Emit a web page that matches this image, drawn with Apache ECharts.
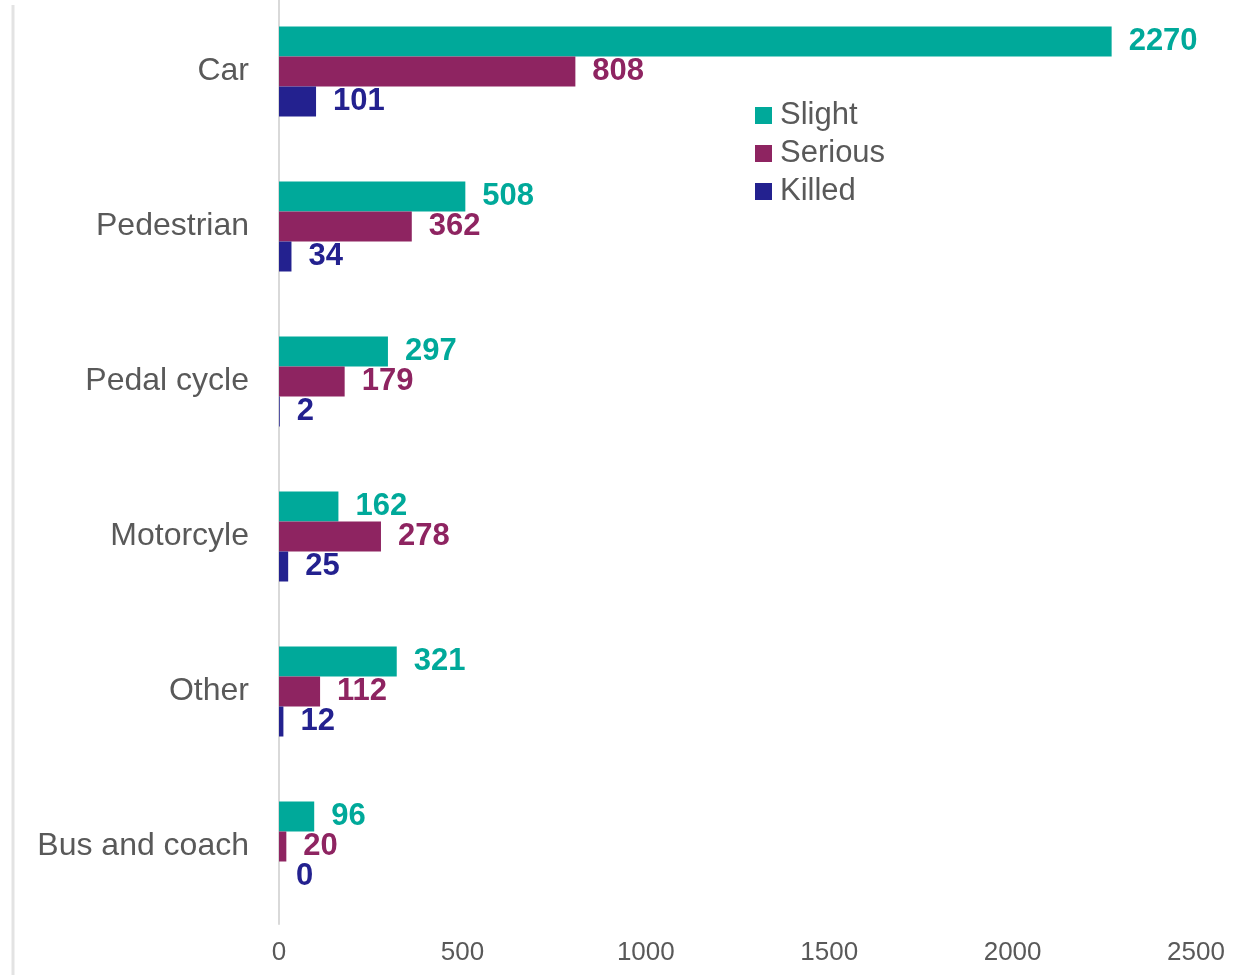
<!DOCTYPE html>
<html>
<head>
<meta charset="utf-8">
<script src="https://cdn.jsdelivr.net/npm/echarts@6/dist/echarts.min.js"></script>
<style>
html,body{margin:0;padding:0;background:#fff;overflow:hidden;}
#chart{width:1240px;height:981px;margin-top:-6px;}
</style>
</head>
<body>
<div id="chart"></div>
<script>
const categories = ['Car', 'Pedestrian', 'Pedal cycle', 'Motorcyle', 'Other', 'Bus and coach'];
const slight = [2270, 508, 297, 162, 321, 96];
const serious = [808, 362, 179, 278, 112, 20];
const killed = [101, 34, 2, 25, 12, 0];
const xTicks = [0, 500, 1000, 1500, 2000, 2500];

const colors = { Slight: '#00a99a', Serious: '#8e2461', Killed: '#23218f' };
const font = 'Arial, "Liberation Sans", sans-serif';

function barSeries(name, data) {
  return {
    name: name,
    type: 'bar',
    data: data,
    barWidth: 30,
    barGap: '0%',
    itemStyle: { color: colors[name] },
    label: {
      show: true,
      position: 'right',
      distance: 17,
      color: colors[name],
      fontFamily: font,
      fontWeight: 'bold',
      fontSize: 31,
      padding: [4, 0, 0, 0]
    }
  };
}

const chart = echarts.init(document.getElementById('chart'));
chart.setOption({
  animation: false,
  backgroundColor: '#fff',
  grid: { left: 279, right: 44, top: 0, bottom: 51, containLabel: false },
  legend: {
    orient: 'vertical',
    left: 755,
    top: 106,
    padding: 0,
    itemGap: 7,
    itemWidth: 17,
    itemHeight: 17,
    icon: 'rect',
    data: ['Slight', 'Serious', 'Killed'],
    textStyle: { fontFamily: font, fontSize: 31, color: '#595959', lineHeight: 30, padding: [0, 0, 0, 3] }
  },
  xAxis: {
    type: 'value',
    min: xTicks[0],
    max: xTicks[xTicks.length - 1],
    interval: xTicks[1] - xTicks[0],
    axisLine: { show: false },
    axisTick: { show: false },
    splitLine: { show: false },
    axisLabel: { fontFamily: font, fontSize: 26, color: '#595959', margin: 16, formatter: function (v) { return String(v); } }
  },
  yAxis: {
    type: 'category',
    inverse: true,
    data: categories,
    axisLine: { show: true, lineStyle: { color: '#d9d9d9', width: 2 } },
    axisTick: { show: false },
    axisLabel: { fontFamily: font, fontSize: 32, color: '#595959', margin: 30, padding: [6, 0, 0, 0] }
  },
  graphic: [{
    type: 'line',
    shape: { x1: 13, y1: 11, x2: 13, y2: 981 },
    style: { stroke: '#e3e3e3', lineWidth: 3 }
  }],
  series: [
    barSeries('Slight', slight),
    barSeries('Serious', serious),
    barSeries('Killed', killed)
  ]
});
</script>
</body>
</html>
